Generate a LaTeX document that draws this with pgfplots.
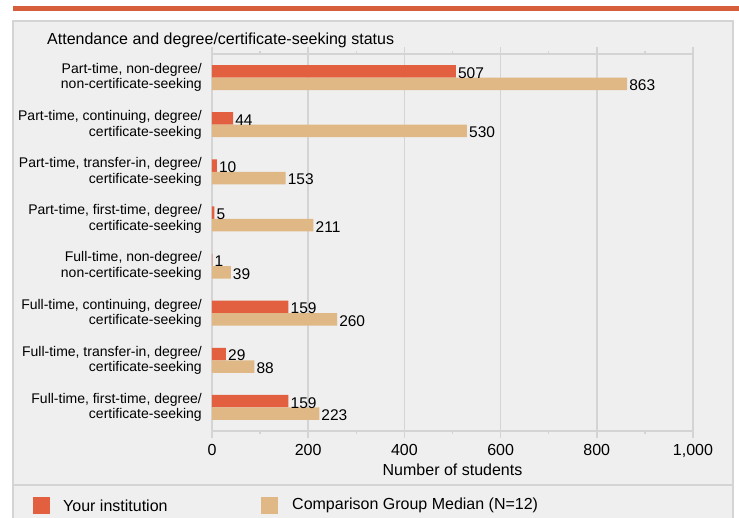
\documentclass[border=0pt]{standalone}
\usepackage{pgfplots}
\pgfplotsset{compat=1.18}
\usepackage{fontspec}
\setmainfont{Liberation Sans}
\definecolor{cOrange}{RGB}{226,96,63}
\definecolor{cTan}{RGB}{223,184,134}
\definecolor{cTop}{RGB}{214,94,58}
\definecolor{cPanel}{RGB}{239,239,239}
\definecolor{cLine}{RGB}{212,212,212}
\newcommand{\fs}{\fontsize{14}{15.5}\selectfont}
\newcommand{\fb}{\fontsize{16}{18}\selectfont}
\begin{document}
\begin{tikzpicture}[x=1pt,y=1pt]
\path[use as bounding box] (0,0) rectangle (739,-518);
\fill[cTop] (13,-6) rectangle (739,-11);
\filldraw[fill=cPanel,draw=cLine,line width=1.5pt] (13,-21) rectangle (733,-525);
\draw[cLine,line width=1.5pt] (13,-485) -- (733,-485);
\node[anchor=west,font=\fb,inner sep=0pt] at (47,-40) {Attendance and degree/certificate-seeking status};
\begin{axis}[
  at={(212pt,-431pt)}, anchor=south west,
  scale only axis, width=481pt, height=377pt,
  xmin=0, xmax=1000, ymin=-0.5, ymax=7.5,
  y dir=reverse,
  axis line style={cLine, line width=1.5pt},
  grid style={cLine, line width=1.5pt},
  xmajorgrids,
  xtick={0,200,400,600,800,1000},
  minor xtick={100,300,500,700,900},
  xticklabels={0,200,400,600,800,{1,000}},
  tick align=outside,
  major tick length=7pt,
  minor tick length=3pt,
  every tick/.style={cLine, line width=1.5pt},
  ytick={0,1,2,3,4,5,6,7},
  major y tick style={draw=none},
  yticklabels={
    {Part-time, non-degree/\\non-certificate-seeking},
    {Part-time, continuing, degree/\\certificate-seeking},
    {Part-time, transfer-in, degree/\\certificate-seeking},
    {Part-time, first-time, degree/\\certificate-seeking},
    {Full-time, non-degree/\\non-certificate-seeking},
    {Full-time, continuing, degree/\\certificate-seeking},
    {Full-time, transfer-in, degree/\\certificate-seeking},
    {Full-time, first-time, degree/\\certificate-seeking}},
  yticklabel style={align=right, font=\fs, inner xsep=3pt},
  xticklabel style={font=\fb, yshift=-3pt},
  /pgf/number format/assume math mode=true,
  xlabel={Number of students},
  xlabel style={font=\fb, yshift=1pt},
  xbar, bar width=12.5pt,
  nodes near coords,
  every node near coord/.append style={font=\fontsize{15.5}{17}\selectfont, black, inner xsep=2pt, yshift=-1.5pt},
]
\addplot[fill=cOrange, draw=none, bar shift=6.25pt] coordinates {
(507,0) (44,1) (10,2) (5,3) (1,4) (159,5) (29,6) (159,7)};
\addplot[fill=cTan, draw=none, bar shift=-6.25pt] coordinates {
(863,0) (530,1) (153,2) (211,3) (39,4) (260,5) (88,6) (223,7)};
\end{axis}
\fill[cOrange] (33,-497) rectangle (50,-514);
\node[anchor=west,font=\fb,inner sep=0pt] at (63,-505.5) {Your institution};
\fill[cTan] (261,-497) rectangle (278,-514);
\node[anchor=west,font=\fb,inner sep=0pt] at (292,-505.5) {Comparison Group Median (N=12)};
\end{tikzpicture}
\end{document}
